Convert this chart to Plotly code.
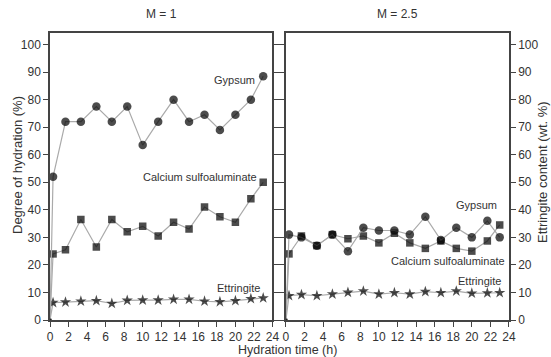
import plotly.graph_objects as go

# Hydration time (h)
time_h = [0, 0.33, 1.67, 3.33, 5, 6.67, 8.33, 10, 11.67, 13.33, 15, 16.67, 18.33, 20, 21.67, 23]

# M = 1
gyp_m1 = [0, 52, 72, 72, 77.5, 72, 77.5, 63.5, 72, 80, 72, 74.5, 69, 74.5, 80, 88.5]
csa_m1 = [0, 24, 25.5, 36.5, 26.5, 36.5, 32, 34, 30.5, 35.5, 33, 41, 37.5, 35.5, 44, 50]
ett_m1 = [0, 6.3, 6.5, 6.8, 7, 6, 7.1, 7.2, 7.2, 7.5, 7.5, 6.8, 6.6, 7, 7.7, 8]

# M = 2.5
gyp_m25 = [0, 31, 30, 27, 31, 25, 33.5, 32.5, 32.5, 31, 37.5, 29, 33.5, 30, 36, 30]
csa_m25 = [0, 24, 30.5, 27, 31, 29.5, 30.5, 28, 31.5, 28, 26, 28.7, 26, 25, 28.7, 34.5]
ett_m25 = [0, 8.8, 9.2, 8.8, 9.4, 10, 10.5, 9.4, 9.9, 9.4, 10.3, 9.9, 10.5, 9.7, 9.8, 9.9]

x_ticks = list(range(0, 25, 2))
y_ticks = list(range(0, 101, 10))

panel_titles = ["M = 1", "M = 2.5"]
labels_m1 = [("Gypsum", 19.9, 87.2), ("Calcium sulfoaluminate", 16.2, 52), ("Ettringite", 20.3, 11.8)]
labels_m25 = [("Gypsum", 20.5, 41.7), ("Calcium sulfoaluminate", 17.4, 21.4), ("Ettringite", 20.8, 14.2)]

FONT = "Liberation Sans, Arial, sans-serif"
TXT = "#333333"
LINE = "#aaaaaa"
AX = "#444444"

fig = go.Figure()

def sizes(n, big):
    return [3] + [big] * (n - 1)

def add_series(x, y, symbol, size, xa, ya):
    fig.add_trace(go.Scatter(
        x=x, y=y, mode="lines+markers", xaxis=xa, yaxis=ya,
        line=dict(color=LINE, width=1.2),
        marker=dict(symbol=symbol, size=sizes(len(x), size), color="black",
                    line=dict(width=0)),
        showlegend=False, hoverinfo="skip"))

add_series(time_h, ett_m1, "star", 8.5, "x", "y")
add_series(time_h, csa_m1, "square", 7.5, "x", "y")
add_series(time_h, gyp_m1, "circle", 8.5, "x", "y")
add_series(time_h, ett_m25, "star", 8.5, "x2", "y2")
add_series(time_h, csa_m25, "square", 7.5, "x2", "y2")
add_series(time_h, gyp_m25, "circle", 8.5, "x2", "y2")

common_x = dict(range=[0, 24], tickvals=x_ticks, ticks="outside", ticklen=5,
                tickwidth=1.2, tickcolor=AX, showline=True, linecolor=AX,
                linewidth=1.5, mirror=True, showgrid=False, zeroline=False,
                tickfont=dict(family=FONT, size=12, color=TXT))
common_y = dict(range=[0, 104.2], tickvals=y_ticks, ticks="outside", ticklen=5,
                tickwidth=1.2, tickcolor=AX, showline=True, linecolor=AX,
                linewidth=1.5, mirror="ticks", showgrid=False, zeroline=False,
                tickfont=dict(family=FONT, size=12, color=TXT))

fig.update_layout(
    width=551, height=357,
    margin=dict(l=50, r=42, t=33, b=37),
    paper_bgcolor="white", plot_bgcolor="white",
    xaxis=dict(domain=[0, 0.4847], anchor="y", **common_x),
    xaxis2=dict(domain=[0.514, 1], anchor="y2", **common_x),
    yaxis=dict(anchor="x", side="left", **common_y),
    yaxis2=dict(anchor="x2", side="right", **common_y),
)

ann = []
for t, xr in [(panel_titles[0], "x domain"), (panel_titles[1], "x2 domain")]:
    ann.append(dict(text=t, x=0.5, y=1, xref=xr, yref="paper", yanchor="bottom",
                    yshift=10, showarrow=False, font=dict(family=FONT, size=12, color=TXT)))
for (t, xv, yv) in labels_m1:
    ann.append(dict(text=t, x=xv, y=yv, xref="x", yref="y", showarrow=False,
                    font=dict(family=FONT, size=11, color=TXT)))
for (t, xv, yv) in labels_m25:
    ann.append(dict(text=t, x=xv, y=yv, xref="x2", yref="y2", showarrow=False,
                    font=dict(family=FONT, size=11, color=TXT)))
ann.append(dict(text="Hydration time (h)", x=285.5 / 551, y=0, xref="paper", yref="paper",
                yshift=-29.5, xanchor="center", yanchor="middle", showarrow=False,
                font=dict(family=FONT, size=12.5, color=TXT)))
ann.append(dict(text="Degree of hydration (%)", x=0, y=(320 - 165) / 287, xref="paper",
                yref="paper", xshift=-33, xanchor="center", yanchor="middle",
                textangle=-90, showarrow=False,
                font=dict(family=FONT, size=13, color=TXT)))
ann.append(dict(text="Ettringite content (wt. %)", x=1, y=(320 - 172) / 287, xref="paper",
                yref="paper", xshift=33, xanchor="center", yanchor="middle",
                textangle=-90, showarrow=False,
                font=dict(family=FONT, size=13, color=TXT)))
fig.update_layout(annotations=ann)

fig.write_html("out.html")
